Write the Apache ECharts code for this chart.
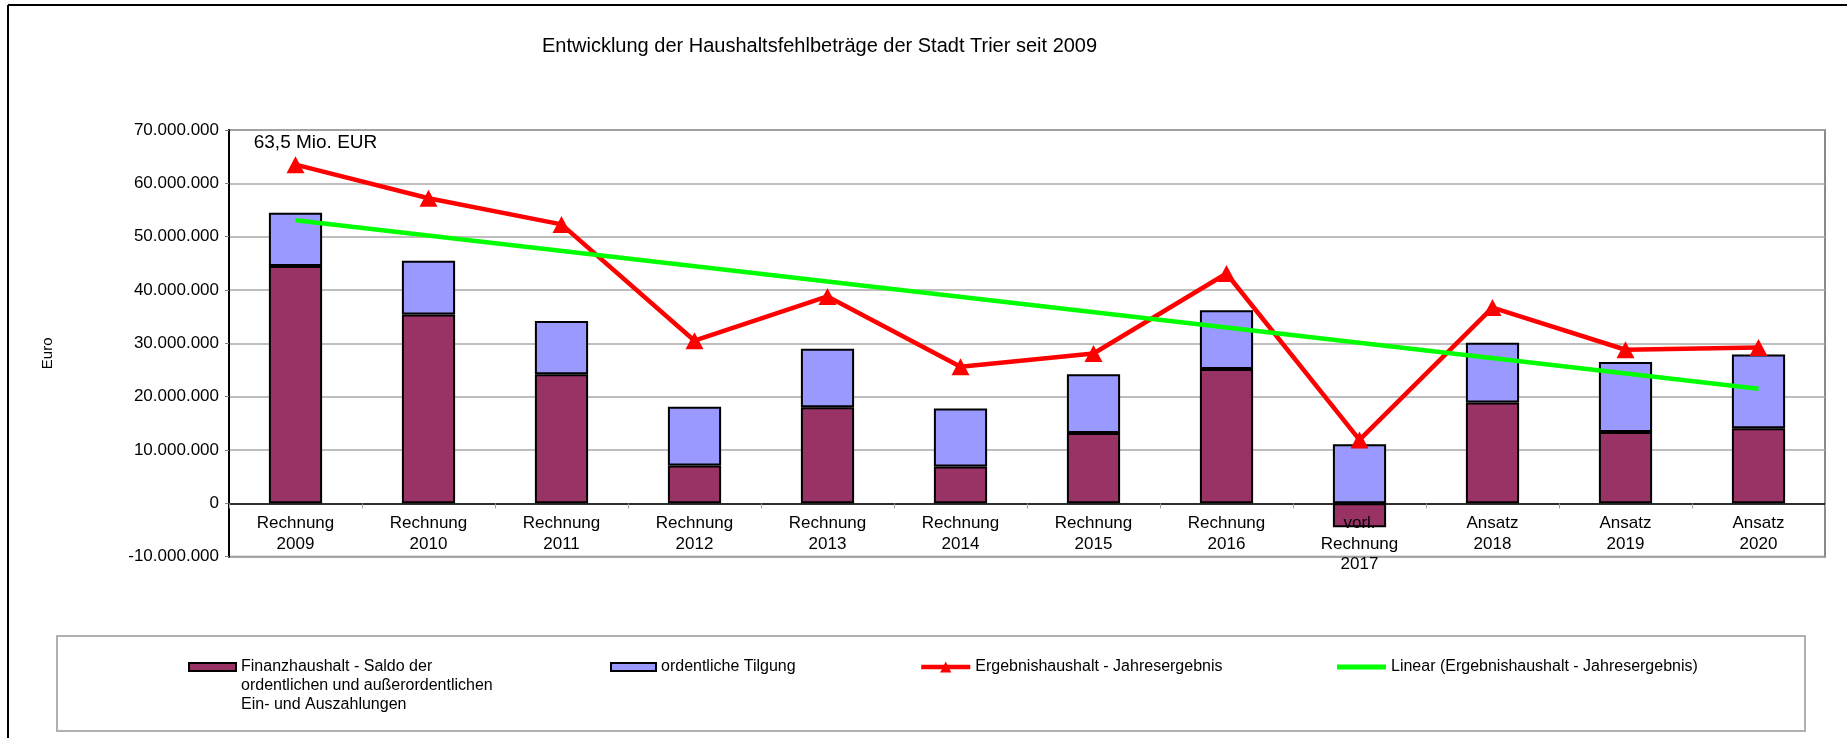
<!DOCTYPE html>
<html>
<head>
<meta charset="utf-8">
<script src="https://cdn.jsdelivr.net/npm/echarts@6/dist/echarts.min.js"></script>
<style>
html,body{margin:0;padding:0;background:#fff;}
#chart{width:1847px;height:738px;}
</style>
</head>
<body>
<div id="chart"></div>
<script>
var categories = ['Rechnung\n2009','Rechnung\n2010','Rechnung\n2011','Rechnung\n2012','Rechnung\n2013','Rechnung\n2014','Rechnung\n2015','Rechnung\n2016','vorl.\nRechnung\n2017','Ansatz\n2018','Ansatz\n2019','Ansatz\n2020'];
var finanzValues = [44.5e6, 35.4e6, 24.2e6, 7.1e6, 18.0e6, 6.9e6, 13.2e6, 25.2e6, -4.5e6, 18.9e6, 13.4e6, 14.1e6];
var tilgungValues = [10.0e6, 10.1e6, 10.0e6, 11.0e6, 11.0e6, 10.9e6, 11.0e6, 11.0e6, 11.1e6, 11.2e6, 13.1e6, 13.8e6];
var ergebnisValues = [63.5e6, 57.2e6, 52.3e6, 30.5e6, 38.8e6, 25.6e6, 28.1e6, 43.1e6, 11.9e6, 36.7e6, 28.8e6, 29.2e6];
var trendIndices = [0, 11];
var trendValues = [53.1e6, 21.5e6];
var yTickLabels = ['-10.000.000','0','10.000.000','20.000.000','30.000.000','40.000.000','50.000.000','60.000.000','70.000.000'];
var annotationText = '63,5 Mio. EUR';

var nameFinanz = 'Finanzhaushalt - Saldo der\nordentlichen und außerordentlichen\nEin- und Auszahlungen';
var nameTilgung = 'ordentliche Tilgung';
var nameErgebnis = 'Ergebnishaushalt - Jahresergebnis';
var nameLinear = 'Linear (Ergebnishaushalt - Jahresergebnis)';

var FONT = '"Liberation Sans", Arial, sans-serif';
var Y_MIN = -10e6, Y_MAX = 70e6;
var GRID = {left:229, right:22, top:130, bottom:181.3};
var gridHeight = 738 - GRID.top - GRID.bottom;
var zeroOffset = -gridHeight * (0 - Y_MIN) / (Y_MAX - Y_MIN);

var chart = echarts.init(document.getElementById('chart'), null, {renderer:'canvas'});

var legendText = {fontSize:16, lineHeight:19, color:'#000', fontFamily:FONT};
var option = {
  animation:false,
  backgroundColor:'#fff',
  textStyle:{fontFamily:FONT, color:'#000'},
  title:{
    text:'Entwicklung der Haushaltsfehlbeträge der Stadt Trier seit 2009',
    left:542, top:36, padding:0,
    textStyle:{fontSize:20, fontWeight:'normal', color:'#000', fontFamily:FONT}
  },
  graphic:[
    {type:'line', shape:{x1:8,y1:5,x2:1847,y2:5}, style:{stroke:'#000',lineWidth:2}, silent:true},
    {type:'line', shape:{x1:8,y1:5,x2:8,y2:738}, style:{stroke:'#000',lineWidth:2}, silent:true},
    {type:'rect', shape:{x:57,y:636,width:1748,height:95}, style:{fill:'none',stroke:'#b0b0b0',lineWidth:2}, silent:true}
  ],
  legend:[
    {data:[nameFinanz], left:188, top:619.5, padding:0, itemWidth:47, itemHeight:8, icon:'rect',
     itemStyle:{borderColor:'#000',borderWidth:2},
     formatter:function(n){ return '\n\n' + n; },
     textStyle:legendText, selectedMode:false},
    {data:[nameTilgung], left:610, top:657.5, padding:0, itemWidth:45, itemHeight:8, icon:'rect',
     itemStyle:{borderColor:'#000',borderWidth:2},
     textStyle:legendText, selectedMode:false},
    {data:[nameErgebnis], left:919, top:657.5, padding:0, itemWidth:49, itemHeight:14,
     lineStyle:{width:4.5, color:'#FF0000'},
     textStyle:legendText, selectedMode:false},
    {data:[nameLinear], left:1337, top:657.5, padding:0, itemWidth:49, itemHeight:5, icon:'rect',
     itemStyle:{color:'#00FF00', borderWidth:0},
     textStyle:legendText, selectedMode:false}
  ],
  grid:{left:GRID.left, right:GRID.right, top:GRID.top, bottom:GRID.bottom, show:true, borderColor:'#8a8a8a', borderWidth:2, backgroundColor:'transparent'},
  xAxis:{
    type:'category', data:categories, boundaryGap:true, z:5,
    offset:zeroOffset,
    axisLine:{onZero:false, lineStyle:{color:'#000', width:1.5}},
    axisTick:{show:true, interval:0, length:5, lineStyle:{color:'#a0a0a0'}},
    axisLabel:{interval:0, fontSize:17, lineHeight:20.5, margin:10, color:'#000', fontFamily:FONT}
  },
  yAxis:{
    type:'value', min:Y_MIN, max:Y_MAX, interval:10e6,
    name:'Euro', nameLocation:'middle', nameGap:174, nameRotate:90,
    nameTextStyle:{fontSize:15, color:'#000', fontFamily:FONT, padding:[0,20,0,0]},
    axisLine:{show:true, lineStyle:{color:'#000', width:2}},
    axisTick:{show:true, length:4, lineStyle:{color:'#808080'}},
    axisLabel:{fontSize:17, margin:10, color:'#000', fontFamily:FONT,
      formatter:function(v, i){ return yTickLabels[i]; }},
    splitLine:{show:true, lineStyle:{color:'#a8a8a8', width:1.5}}
  },
  series:[
    {name:nameFinanz, type:'bar', stack:'total', barWidth:'40%', z:2,
     itemStyle:{color:'#993366', borderColor:'#000', borderWidth:2},
     data:finanzValues},
    {name:nameTilgung, type:'bar', stack:'total', barWidth:'40%', z:2,
     itemStyle:{color:'#9999FF', borderColor:'#000', borderWidth:2},
     data:tilgungValues},
    {name:nameErgebnis, type:'line', z:3, symbol:'triangle', symbolSize:[18,17], showAllSymbol:true,
     lineStyle:{color:'#FF0000', width:4.5}, itemStyle:{color:'#FF0000'},
     data:ergebnisValues.map(function(v, i){
       if (i === 0) {
         return {value:v, label:{show:true, formatter:annotationText, position:'top', distance:4, offset:[20,0], fontSize:19, color:'#000', fontFamily:FONT}};
       }
       return v;
     })},
    {name:nameLinear, type:'line', z:4, symbol:'none',
     lineStyle:{color:'#00FF00', width:4.5}, itemStyle:{color:'#00FF00'},
     data:trendIndices.map(function(idx, i){ return [idx, trendValues[i]]; })}
  ]
};
chart.setOption(option);
</script>
</body>
</html>
